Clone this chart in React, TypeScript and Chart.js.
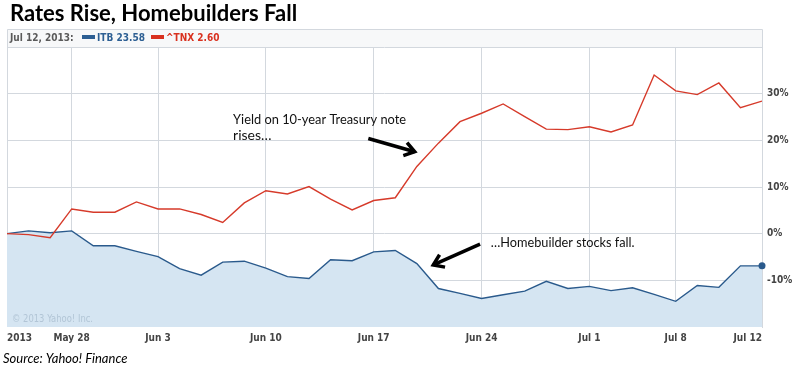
import React, { useEffect, useRef } from "react";
import { Chart, registerables } from "chart.js";

Chart.register(...registerables);

// ---- data (percent change since May 22, 2013) ----
const dates = [
  "May 22", "May 23", "May 24", "May 28", "May 29", "May 30", "May 31",
  "Jun 3", "Jun 4", "Jun 5", "Jun 6", "Jun 7",
  "Jun 10", "Jun 11", "Jun 12", "Jun 13", "Jun 14",
  "Jun 17", "Jun 18", "Jun 19", "Jun 20", "Jun 21",
  "Jun 24", "Jun 25", "Jun 26", "Jun 27", "Jun 28",
  "Jul 1", "Jul 2", "Jul 3", "Jul 5",
  "Jul 8", "Jul 9", "Jul 10", "Jul 11", "Jul 12",
];
const itbPct = [
  0, 0.6, 0.2, 0.6, -2.6, -2.6, -3.8,
  -4.9, -7.5, -8.9, -6.1, -5.9,
  -7.4, -9.2, -9.6, -5.6, -5.8,
  -3.9, -3.6, -6.4, -11.75, -12.8,
  -13.9, -13.1, -12.3, -10.2, -11.75,
  -11.3, -12.2, -11.6, -13.0,
  -14.5, -11.1, -11.5, -6.9, -6.9,
];
const tnxPct = [
  0, -0.2, -0.85, 5.3, 4.6, 4.6, 6.8,
  5.3, 5.3, 4.1, 2.4, 6.6,
  9.2, 8.5, 10.1, 7.4, 5.1,
  7.1, 7.7, 14.4, 19.4, 24.0,
  25.8, 27.8, 25.1, 22.4, 22.3,
  22.9, 21.8, 23.3, 34.0,
  30.6, 29.8, 32.3, 27.0, 28.4,
];
const tickIndex = [0, 3, 7, 12, 17, 22, 27, 31, 35];
const tickLabels = ["2013", "May 28", "Jun 3", "Jun 10", "Jun 17", "Jun 24", "Jul 1", "Jul 8", "Jul 12"];
const yMin = -20;
const yMax = 40;
const yStep = 10;
const yHiddenLabels = [-20, 40];

const title = "Rates Rise, Homebuilders Fall";
const headerDate = "Jul 12, 2013:";
const itbLabel = "ITB 23.58";
const tnxLabel = "^TNX 2.60";
const source = "Source: Yahoo! Finance";
const watermark = "© 2013 Yahoo! Inc.";
const note1 = ["Yield on 10-year Treasury note", "rises…"];
const note2 = "…Homebuilder stocks fall.";
// annotation anchors in data units [x index, y %]
const note1Pos = [10.48, 23.5];
const note2Pos = [22.42, -2.8];
const arrow1 = [[16.75, 20.4], [18.9, 17.55]];
const arrow2 = [[21.93, -2.25], [19.76, -6.7]];

const RED = "#d63a2a";
const BLUE = "#2a5a8c";
const FILL = "#d5e5f2";
const GRID = "#d3d8de";
const AXIS_TEXT = "#444444";
const SMALL_FONT = '"DejaVu Sans Condensed", "DejaVu Sans", sans-serif';

function drawArrow(ctx: CanvasRenderingContext2D, x1: number, y1: number, x2: number, y2: number) {
  const ang = Math.atan2(y2 - y1, x2 - x1);
  const L = 12;
  const s = 0.6;
  ctx.beginPath();
  ctx.moveTo(x1, y1);
  ctx.lineTo(x2, y2);
  ctx.stroke();
  ctx.beginPath();
  ctx.moveTo(x2 - L * Math.cos(ang - s), y2 - L * Math.sin(ang - s));
  ctx.lineTo(x2, y2);
  ctx.lineTo(x2 - L * Math.cos(ang + s), y2 - L * Math.sin(ang + s));
  ctx.stroke();
}

const decor = {
  id: "decor",
  beforeDraw(chart: any) {
    const ctx: CanvasRenderingContext2D = chart.ctx;
    const a = chart.chartArea;
    ctx.save();
    ctx.fillStyle = "#ffffff";
    ctx.fillRect(0, 0, chart.width, chart.height);

    // title
    ctx.fillStyle = "#000";
    ctx.font = "bold 22px Lato, sans-serif";
    ctx.textBaseline = "alphabetic";
    ctx.textAlign = "left";
    ctx.fillText(title, 10, 21, 290);

    // header box
    const hTop = a.top - 17.5;
    ctx.fillStyle = "#f7f8f9";
    ctx.fillRect(a.left, hTop, a.right - a.left, a.top - hTop);
    ctx.strokeStyle = GRID;
    ctx.lineWidth = 1;
    ctx.beginPath();
    ctx.moveTo(a.left + 0.5, a.top);
    ctx.lineTo(a.left + 0.5, hTop);
    ctx.lineTo(a.right + 0.5, hTop);
    ctx.lineTo(a.right + 0.5, a.top);
    ctx.stroke();

    ctx.font = `bold 10px ${SMALL_FONT}`;
    const base = a.top - 6.5;
    ctx.fillStyle = "#5a5a5a";
    ctx.fillText(headerDate, a.left + 3, base);
    ctx.fillStyle = "#2d5f93";
    ctx.fillRect(a.left + 75, base - 5.5, 13, 4);
    ctx.fillText(itbLabel, a.left + 90, base);
    ctx.fillStyle = "#d9311f";
    ctx.fillRect(a.left + 144, base - 5.5, 13, 4);
    ctx.fillText(tnxLabel, a.left + 159, base);

    // source
    ctx.fillStyle = "#000";
    ctx.font = "italic 13px Lato, sans-serif";
    ctx.fillText(source, 3, chart.height - 6, 128);
    ctx.restore();
  },
  afterDatasetsDraw(chart: any) {
    const ctx: CanvasRenderingContext2D = chart.ctx;
    const a = chart.chartArea;
    const xs = chart.scales.x;
    const ys = chart.scales.y;
    ctx.save();
    // watermark
    ctx.fillStyle = "rgba(150,172,192,0.55)";
    ctx.font = `11px "DejaVu Sans", sans-serif`;
    ctx.textBaseline = "middle";
    ctx.fillText(watermark, a.left + 5, a.bottom - 8, 81);

    // notes
    ctx.fillStyle = "#111";
    ctx.font = "14px Lato, sans-serif";
    ctx.textBaseline = "alphabetic";
    const n1x = xs.getPixelForValue(note1Pos[0]);
    const n1y = ys.getPixelForValue(note1Pos[1]);
    ctx.fillText(note1[0], n1x, n1y, 173);
    ctx.fillText(note1[1], n1x, n1y + 15.5);
    ctx.fillText(note2, xs.getPixelForValue(note2Pos[0]), ys.getPixelForValue(note2Pos[1]), 144);

    // arrows
    ctx.strokeStyle = "#000";
    ctx.lineWidth = 3.5;
    ctx.lineCap = "butt";
    ctx.lineJoin = "miter";
    for (const arr of [arrow1, arrow2]) {
      drawArrow(
        ctx,
        xs.getPixelForValue(arr[0][0]), ys.getPixelForValue(arr[0][1]),
        xs.getPixelForValue(arr[1][0]), ys.getPixelForValue(arr[1][1])
      );
    }
    ctx.restore();
  },
};

export default function App() {
  const ref = useRef<HTMLCanvasElement | null>(null);
  useEffect(() => {
    if (!ref.current) return;
    const chart = new Chart(ref.current, {
      type: "line",
      data: {
        datasets: [
          {
            label: "^TNX",
            data: tnxPct.map((v, i) => ({ x: i, y: v })),
            borderColor: RED,
            borderWidth: 1.4,
            pointRadius: 0,
            tension: 0,
            fill: false,
          },
          {
            label: "ITB",
            data: itbPct.map((v, i) => ({ x: i, y: v })),
            borderColor: BLUE,
            backgroundColor: FILL,
            borderWidth: 1.4,
            pointRadius: itbPct.map((_, i) => (i === itbPct.length - 1 ? 3.5 : 0)),
            pointBackgroundColor: BLUE,
            pointBorderWidth: 0,
            tension: 0,
            fill: "start",
            clip: false,
          },
        ],
      },
      options: {
        animation: false,
        responsive: false,
        maintainAspectRatio: false,
        layout: { padding: { left: 7, top: 47, right: 0, bottom: 0 } },
        plugins: { legend: { display: false }, tooltip: { enabled: false }, title: { display: false } },
        scales: {
          x: {
            type: "linear",
            min: 0,
            max: dates.length - 1,
            afterBuildTicks: (s: any) => {
              s.ticks = tickIndex.map((v) => ({ value: v }));
            },
            afterFit: (s: any) => {
              s.height = 42;
            },
            ticks: {
              callback: (_v: any, i: number) => tickLabels[i],
              align: "inner",
              maxRotation: 0,
              autoSkip: false,
              padding: 5,
              color: AXIS_TEXT,
              font: { family: SMALL_FONT, size: 10, weight: "bold" },
            },
            grid: { color: GRID, drawTicks: false },
            border: { display: false },
          },
          y: {
            position: "right",
            min: yMin,
            max: yMax,
            afterFit: (s: any) => {
              s.width = 34;
            },
            ticks: {
              stepSize: yStep,
              callback: (v: any) => (yHiddenLabels.includes(v) ? "" : `${v}%`),
              padding: 5,
              color: AXIS_TEXT,
              font: { family: SMALL_FONT, size: 10, weight: "bold" },
            },
            grid: {
              color: (c: any) => (c.tick && c.tick.value === yMin ? "rgba(0,0,0,0)" : GRID),
              drawTicks: false,
            },
            border: { display: true, color: GRID },
          },
        },
      },
      plugins: [decor],
    } as any);
    return () => chart.destroy();
  }, []);
  return (
    <div style={{ position: "absolute", left: 0, top: 0, width: 796, height: 369 }}>
      <canvas ref={ref} width={796} height={369} style={{ display: "block" }} />
    </div>
  );
}
